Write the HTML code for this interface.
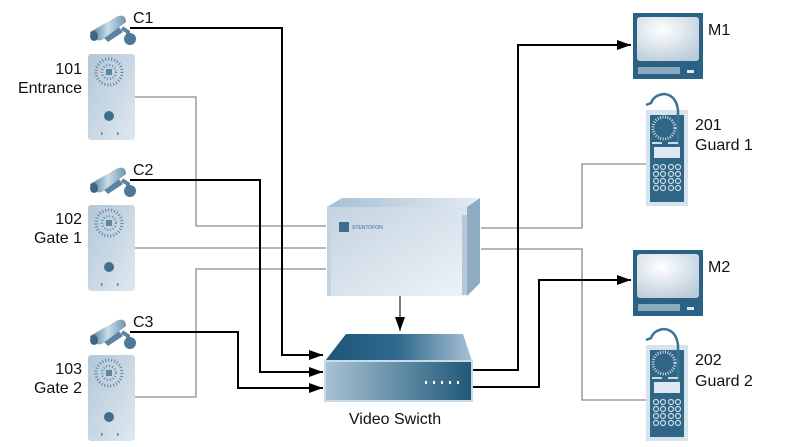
<!DOCTYPE html>
<html><head><meta charset="utf-8"><style>
html,body{margin:0;padding:0;background:#fff}
svg{display:block}
text{font-family:"Liberation Sans",sans-serif;font-size:16px;fill:#111}
</style></head><body>
<svg width="800" height="447" viewBox="0 0 800 447" xmlns="http://www.w3.org/2000/svg">
<defs>
<linearGradient id="pan" x1="0" y1="0" x2="1" y2="1"><stop offset="0" stop-color="#b3c7d8"/><stop offset="1" stop-color="#dfe8f0"/></linearGradient>
<linearGradient id="cam" x1="0" y1="0" x2="1" y2="0"><stop offset="0" stop-color="#4d7896"/><stop offset="0.5" stop-color="#c9dbe8"/><stop offset="1" stop-color="#6f95b0"/></linearGradient>
<linearGradient id="box" x1="0" y1="0" x2="1" y2="1"><stop offset="0" stop-color="#c3d3e1"/><stop offset="1" stop-color="#eef3f7"/></linearGradient>
<linearGradient id="boxtop" x1="0" y1="0" x2="1" y2="0"><stop offset="0" stop-color="#a8bfd2"/><stop offset="1" stop-color="#e3ebf2"/></linearGradient>
<linearGradient id="swtop" x1="0" y1="0" x2="1" y2="0"><stop offset="0" stop-color="#1d5677"/><stop offset="0.5" stop-color="#2e6a8c"/><stop offset="1" stop-color="#a9c2d4"/></linearGradient>
<linearGradient id="swfr" x1="0" y1="0" x2="1" y2="0"><stop offset="0" stop-color="#a8c2d4"/><stop offset="1" stop-color="#1f5878"/></linearGradient>
<radialGradient id="scr" cx="0.4" cy="0.3" r="0.8"><stop offset="0" stop-color="#fff"/><stop offset="1" stop-color="#b9cad8"/></radialGradient>
<marker id="ah" markerWidth="14" markerHeight="10" refX="14" refY="5" orient="auto" markerUnits="userSpaceOnUse"><path d="M0,0 L14,5 L0,10 z" fill="#000"/></marker>
<g id="camera">
<path d="M12,24 L28,14 L35,22 L20,32 z" fill="#5c84a0"/>
<path d="M2,22 L30,6 Q38,4 38,12 L14,30 Q4,32 2,22 z" fill="url(#cam)"/>
<ellipse cx="6" cy="26" rx="4" ry="5" fill="#3d6680"/>
<path d="M34,18 L40,22 L40,30" stroke="#5c84a0" stroke-width="4" fill="none"/>
<circle cx="42" cy="29" r="6" fill="#4d7896"/>
</g>
<g id="intercom">
<rect x="0" y="0" width="47" height="86" rx="3" fill="url(#pan)"/>
<circle cx="21" cy="18" r="13" fill="none" stroke="#5b86a5" stroke-width="3" stroke-dasharray="1 2"/>
<circle cx="21" cy="18" r="7" fill="none" stroke="#5b86a5" stroke-width="2" stroke-dasharray="1 2"/>
<rect x="18" y="15" width="6" height="6" fill="#5b86a5"/>
<circle cx="21" cy="62" r="5" fill="#3f6e8e"/>
<rect x="13" y="78" width="1.5" height="3" fill="#5b86a5"/><rect x="29" y="78" width="1.5" height="3" fill="#5b86a5"/>
</g>
<g id="monitor">
<rect x="0" y="0" width="70" height="66" fill="#2a6184"/>
<rect x="4" y="4" width="62" height="44" rx="3" fill="url(#scr)"/>
<rect x="5" y="54" width="42" height="7" fill="#8aaac0"/>
<rect x="54" y="57" width="7" height="3" fill="#dfe8f0"/>
</g>
<g id="handset">
<rect x="0" y="15" width="42" height="96" fill="#d6e2ec"/>
<rect x="4" y="20" width="34" height="87" fill="#2f6585"/>
<path d="M32,55 L32,15 Q30,0 18,-1 Q8,0 5,8 L0,10" stroke="#3f7393" stroke-width="2.5" fill="none"/>
<circle cx="18" cy="33" r="11" fill="none" stroke="#c9dbe8" stroke-width="3" stroke-dasharray="1 1.5"/>
<rect x="6" y="47" width="10" height="2" fill="#c9dbe8"/><rect x="22" y="47" width="10" height="2" fill="#c9dbe8"/>
<rect x="8" y="52" width="26" height="11" fill="#dfe8f0"/>
<g fill="none" stroke="#c9dbe8" stroke-width="1.2">
<circle cx="10" cy="72" r="2.5"/><circle cx="17" cy="72" r="2.5"/><circle cx="25" cy="72" r="2.5"/><circle cx="32" cy="72" r="2.5"/>
<circle cx="10" cy="79" r="2.5"/><circle cx="17" cy="79" r="2.5"/><circle cx="25" cy="79" r="2.5"/><circle cx="32" cy="79" r="2.5"/>
<circle cx="10" cy="86" r="2.5"/><circle cx="17" cy="86" r="2.5"/><circle cx="25" cy="86" r="2.5"/><circle cx="32" cy="86" r="2.5"/>
<circle cx="10" cy="93" r="2.5"/><circle cx="17" cy="93" r="2.5"/><circle cx="25" cy="93" r="2.5"/><circle cx="32" cy="93" r="2.5"/>
</g>
</g>
</defs>

<g stroke="#8a8a8a" stroke-width="1.3" fill="none">
<polyline points="135,97 196,97 196,226 326,226"/>
<polyline points="135,248 326,248"/>
<polyline points="135,397 196,397 196,269 326,269"/>
<polyline points="481,228 582,228 582,164 647,164"/>
<polyline points="481,249 582,249 582,400 647,400"/>
</g>

<use href="#camera" x="88" y="10"/>
<use href="#camera" x="88" y="162"/>
<use href="#camera" x="88" y="314"/>
<use href="#intercom" x="88" y="54"/>
<use href="#intercom" x="88" y="205"/>
<use href="#intercom" x="88" y="355"/>

<path d="M327,207 L342,198 L480,198 L467,207 z" fill="url(#boxtop)"/>
<path d="M467,207 L480,198 L480,283 L467,296 z" fill="#8eabc2"/>
<rect x="327" y="207" width="140" height="89" fill="url(#box)"/>
<rect x="327" y="207" width="4" height="89" fill="#c3d3e1"/>
<rect x="462" y="215" width="5" height="80" fill="#b5c8d8"/>
<rect x="339" y="222" width="10" height="10" fill="#3f6e8e"/>
<text x="352" y="229" style="font-size:5px;fill:#3f6e8e">STENTOFON</text>
<line x1="400" y1="296" x2="400" y2="331" stroke="#333" stroke-width="1.3" marker-end="url(#ah)"/>

<path d="M325,361 L346,334 L463,334 L472,361 z" fill="url(#swtop)"/>
<rect x="325" y="361" width="147" height="40" fill="url(#swfr)" stroke="#c9dbe8" stroke-width="2"/>
<g fill="#fff"><rect x="425" y="381" width="2" height="3"/><rect x="433" y="381" width="2" height="3"/><rect x="441" y="381" width="2" height="3"/><rect x="449" y="381" width="2" height="3"/><rect x="457" y="381" width="2" height="3"/></g>

<use href="#monitor" x="633" y="13"/>
<use href="#monitor" x="633" y="250"/>
<use href="#handset" x="646" y="95"/>
<use href="#handset" x="646" y="330"/>

<g stroke="#000" stroke-width="2" fill="none" marker-end="url(#ah)">
<polyline points="130,28 282,28 282,355 323,355"/>
<polyline points="130,180 260,180 260,372 323,372"/>
<polyline points="130,332 238,332 238,388 323,388"/>
<polyline points="473,370 518,370 518,45 631,45"/>
<polyline points="473,387 539,387 539,280 631,280"/>
</g>

<text x="133" y="23">C1</text>
<text x="133" y="175">C2</text>
<text x="133" y="327">C3</text>
<text x="82" y="74" text-anchor="end">101</text>
<text x="82" y="93" text-anchor="end">Entrance</text>
<text x="82" y="224" text-anchor="end">102</text>
<text x="82" y="243" text-anchor="end">Gate 1</text>
<text x="82" y="374" text-anchor="end">103</text>
<text x="82" y="393" text-anchor="end">Gate 2</text>
<text x="708" y="35">M1</text>
<text x="708" y="272">M2</text>
<text x="695" y="130">201</text>
<text x="695" y="150">Guard 1</text>
<text x="695" y="365">202</text>
<text x="695" y="386">Guard 2</text>
<text x="395" y="424" text-anchor="middle">Video Swicth</text>
</svg>
</body></html>
